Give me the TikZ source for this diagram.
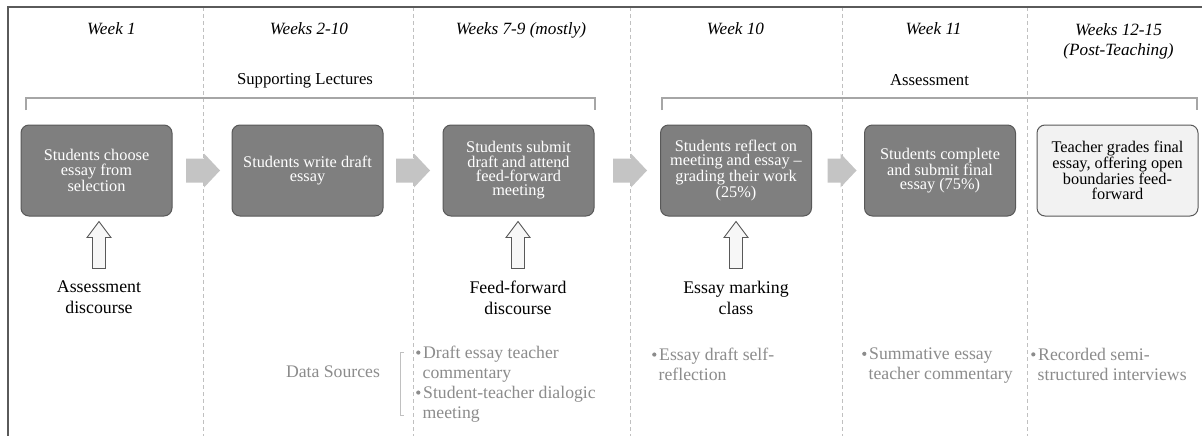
\documentclass[tikz,border=0pt]{standalone}
\usepackage{fontspec}
\setmainfont{Liberation Serif}
\usetikzlibrary{calc}
\definecolor{boxgray}{HTML}{7F7F7F}
\definecolor{boxedge}{HTML}{595959}
\definecolor{lightbox}{HTML}{F2F2F2}
\definecolor{arrowgray}{HTML}{C4C4C4}
\definecolor{divgray}{HTML}{C0C0C0}
\definecolor{brgray}{HTML}{A6A6A6}
\definecolor{srcgray}{HTML}{8C8C8C}
\definecolor{framegray}{HTML}{5A5A5A}
\definecolor{hollowfill}{HTML}{F7F7F7}
\newcommand\blockarr[2]{%
  \fill[blockarrow] let \p1=(#1) in
    (\x1-#2pt,\y1+12pt) -- (\x1+#2pt-16pt,\y1+12pt) -- (\x1+#2pt-16pt,\y1+17pt)
    -- (\x1+#2pt,\y1) -- (\x1+#2pt-16pt,\y1-17pt) -- (\x1+#2pt-16pt,\y1-12pt)
    -- (\x1-#2pt,\y1-12pt) -- cycle;}
\newcommand\hollowarr[2]{%
  \draw[hollow] let \p1=(#1.north), \p2=(#2.south) in
    (\x1-6.5pt,\y2-52pt) -- (\x1+6.5pt,\y2-52pt) -- (\x1+6.5pt,\y2-21pt)
    -- (\x1+12pt,\y2-21pt) -- (\x1,\y2-5pt) -- (\x1-12pt,\y2-21pt)
    -- (\x1-6.5pt,\y2-21pt) -- cycle;}
\newcommand\bul{\makebox[7pt][l]{\raisebox{4pt}{\tikz\fill[srcgray] (0,0) circle (2.1pt);}}}
\newcommand\ind{\hspace*{6.5pt}}
\begin{document}
\begin{tikzpicture}[x=1pt,y=-1pt,
  box/.style={draw=boxedge, line width=1pt, fill=boxgray, rounded corners=8pt,
    minimum width=151pt, minimum height=91pt, inner sep=0pt, align=center,
    text=white, font=\fontsize{16.3}{14.4}\selectfont},
  lbox/.style={box, fill=lightbox, text=black},
  week/.style={font=\fontsize{17.2}{20}\selectfont\itshape, align=center, inner sep=0pt},
  phase/.style={font=\fontsize{16.7}{20}\selectfont, inner sep=0pt},
  disc/.style={font=\fontsize{17.8}{21}\selectfont, align=center, inner sep=0pt},
  src/.style={font=\fontsize{17.7}{20}\selectfont, text=srcgray, align=left, inner sep=0pt},
  divider/.style={draw=divgray, dash pattern=on 4pt off 3pt, line width=0.8pt},
  bracket/.style={draw=brgray, line width=1.2pt},
  srcbracket/.style={draw=divgray, line width=0.9pt},
  blockarrow/.style={fill=arrowgray},
  hollow/.style={draw=boxedge, fill=hollowfill, line width=0.9pt, line join=miter}]
\useasboundingbox (0,0) rectangle (1202,436);
\fill[white] (0,0) rectangle (1202,436);
% dividers
\coordinate (d1) at (203,7);
\coordinate (d2) at (413,7);
\coordinate (d3) at (630,7);
\coordinate (d4) at (842,7);
\coordinate (d5) at (1027,7);
\foreach \d in {d1,d2,d3,d4,d5}{\draw[divider] (\d) -- ++(0,429);}
% frame
\draw[framegray, line width=1.5pt] (8,436) -- (8,7) -- (1202,7);
% headers
\node[week] (h1) at (111.5,29) {Week 1};
\node[week] (h2) at (309,29) {Weeks 2-10};
\node[week] (h3) at (521,30) {Weeks 7-9 (mostly)};
\node[week] (h4) at (735.5,29) {Week 10};
\node[week] (h5) at (933.5,29) {Week 11};
\node[week] (h6) at (1118.5,41) {Weeks 12-15\\(Post-Teaching)};
% phases
\node[phase] (p1) at (305,81) {Supporting Lectures};
\node[phase] (p2) at (929.5,80.5) {Assessment};
\draw[bracket] (26,110) -- (26,98) -- (595,98) -- (595,110);
\draw[bracket] (662,110) -- (662,98) -- (1197,98) -- (1197,110);
% boxes
\node[box] (b1) at (96.5,170.5) {Students choose\\essay from\\selection};
\node[box] (b2) at (307.5,170.5) {Students write draft\\essay};
\node[box] (b3) at (518.5,170.5) {Students submit\\draft and attend\\feed-forward\\meeting};
\node[box] (b4) at (736,170.5) {Students reflect on\\meeting and essay –\\grading their work\\(25\%)};
\node[box] (b5) at (940,170.5) {Students complete\\and submit final\\essay (75\%)};
\node[lbox, minimum width=161pt] (b6) at (1117.5,170.5) {Teacher grades final\\essay, offering open\\boundaries feed-\\forward};
% block arrows between boxes
\coordinate (a1) at (d1 |- b1.east);
\coordinate (a2) at (d2 |- b2.east);
\coordinate (a3) at (d3 |- b3.east);
\coordinate (a4) at (d4 |- b4.east);
\blockarr{a1}{17}
\blockarr{a2}{17}
\blockarr{a3}{17}
\blockarr{a4}{14.5}
% discourse labels
\node[disc] (l1) at (99,297.5) {Assessment\\discourse};
\node[disc] (l3) at (518,297.5) {Feed-forward\\discourse};
\node[disc] (l4) at (736,297.5) {Essay marking\\class};
\hollowarr{l1}{b1}
\hollowarr{l3}{b3}
\hollowarr{l4}{b4}
% data sources
\node[src] (ds) at (333,372) {Data Sources};
\draw[srcbracket] (404,352) -- (400,352) -- (400,415) -- (404,415);
\node[src, anchor=north west] (s3) at (416,346) {\bul Draft essay teacher\\\ind commentary\\\bul Student-teacher dialogic\\\ind meeting};
\node[src, anchor=north west] (s4) at (652,348) {\bul Essay draft self-\\\ind reflection};
\node[src, anchor=north west] (s5) at (862,348) {\bul Summative essay\\\ind teacher commentary};
\node[src, anchor=north west] (s6) at (1031,348) {\bul Recorded semi-\\\ind structured interviews};
\end{tikzpicture}
\end{document}
